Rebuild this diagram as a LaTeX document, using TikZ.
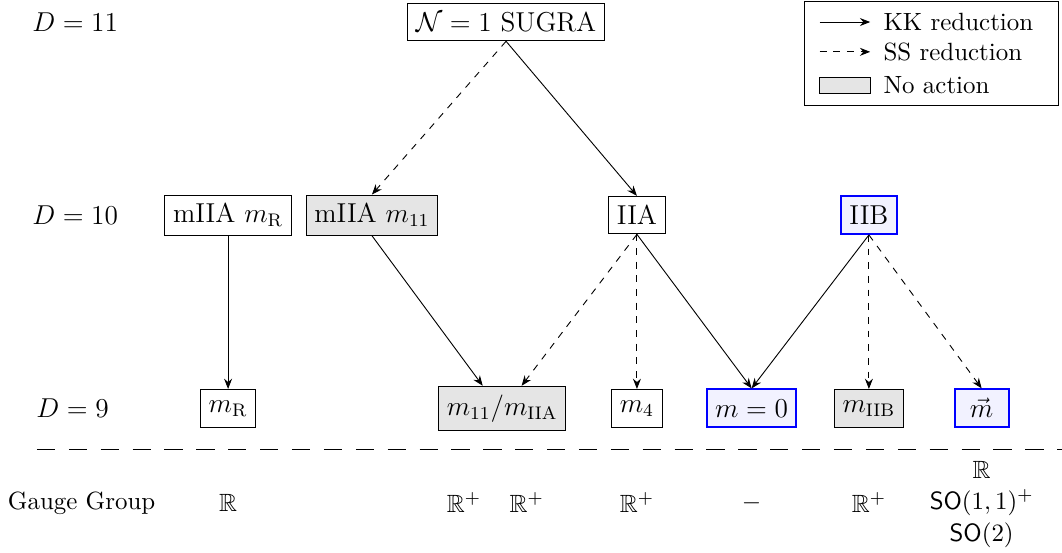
\documentclass[tikz,border=0pt,11pt]{standalone}
\usepackage{amssymb}
\usetikzlibrary{arrows.meta}

\begin{document}
\begin{tikzpicture}[
  box/.style={draw, font=\large, minimum height=0.58cm},
  noact/.style={box, fill=gray!20},
  blbox/.style={box, draw=blue, fill=blue!5, line width=0.9pt},
  dim/.style={font=\large},
  kk/.style={-{Stealth[length=4.5pt,width=3.5pt]}},
  ss/.style={kk, dashed},
]
\useasboundingbox (0,0) rectangle (16.39,-8.52);
% dimensions
\node[dim] (d11) at (1.16,-0.34) {$D=11$};
\node[dim] (d10) at (1.16,-3.32) {$D=10$};
\node[dim] (d9) at (1.12,-6.30) {$D=9$};
\node (gg) at (1.26,-7.76) {Gauge Group};
% D=11
\node[box] (sugra) at (7.81,-0.34) {$\mathcal{N}=1$ SUGRA};
% D=10
\node[box] (mR) at (3.52,-3.32) {mIIA $m_{\mathrm{R}}$};
\node[noact] (m11) at (5.74,-3.32) {mIIA $m_{11}$};
\node[box] (iia) at (9.83,-3.32) {IIA};
\node[blbox] (iib) at (13.41,-3.32) {IIB};
% D=9
\node[box] (nR) at (3.52,-6.30) {$m_{\mathrm{R}}$};
\node[noact] (nA) at (7.75,-6.30) {$m_{11}/m_{\mathrm{IIA}}$};
\node[box] (n4) at (9.83,-6.30) {$m_4$};
\node[blbox] (n0) at (11.60,-6.30) {$m=0$};
\node[noact] (nB) at (13.41,-6.30) {$m_{\mathrm{IIB}}$};
\node[blbox, minimum width=0.83cm] (nv) at (15.15,-6.30) {$\vec{m}$};
% reductions
\draw[ss] (sugra.south) -- (m11.north);
\draw[kk] (sugra.south) -- (iia.north);
\draw[kk] (mR.south) -- (nR.north);
\draw[kk] (m11.south) -- ([xshift=-0.3cm]nA.north);
\draw[ss] (iia.south) -- ([xshift=0.3cm]nA.north);
\draw[ss] (iia.south) -- (n4.north);
\draw[kk] (iia.south) -- (n0.north);
\draw[kk] (iib.south) -- (n0.north);
\draw[ss] (iib.south) -- (nB.north);
\draw[ss] (iib.south) -- (nv.north);
% separator
\coordinate (sepL) at (0.57,-6.93);
\coordinate (sepR) at (16.39,-6.93);
\draw[dash pattern=on 8pt off 6pt] (sepL) -- (sepR);
% gauge groups
\node (gR) at (3.52,-7.76) {$\mathbb{R}$};
\node (gA1) at (7.16,-7.76) {$\mathbb{R}^+$};
\node (gA2) at (8.13,-7.76) {$\mathbb{R}^+$};
\node (g4) at (9.83,-7.76) {$\mathbb{R}^+$};
\node (g0) at (11.60,-7.76) {$-$};
\node (gB) at (13.41,-7.76) {$\mathbb{R}^+$};
\node (gv1) at (15.15,-7.25) {$\mathbb{R}$};
\node (gv2) at (15.15,-7.76) {$\mathsf{SO}(1,1)^+$};
\node (gv3) at (15.15,-8.26) {$\mathsf{SO}(2)$};
% legend
\draw (12.42,-0.03) rectangle (16.33,-1.62);
\coordinate (lk1) at (12.65,-0.34);
\coordinate (lk2) at (13.43,-0.34);
\coordinate (ls1) at (12.65,-0.80);
\coordinate (ls2) at (13.43,-0.80);
\draw[kk] (lk1) -- (lk2);
\draw[ss] (ls1) -- (ls2);
\draw[fill=gray!20] (12.65,-1.20) rectangle (13.43,-1.44);
\node[anchor=west] (lkk) at (13.50,-0.34) {KK reduction};
\node[anchor=west] (lss) at (13.50,-0.80) {SS reduction};
\node[anchor=west] (lno) at (13.50,-1.31) {No action};
\end{tikzpicture}
\end{document}
